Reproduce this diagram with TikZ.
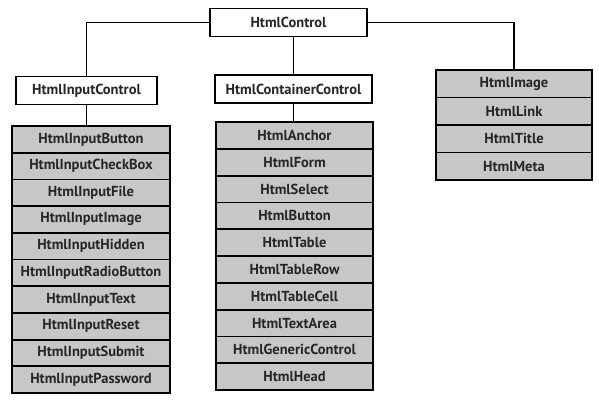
\documentclass[tikz,border=0pt]{standalone}
\usepackage{fontspec}
\setmainfont{PT Sans}
\usepackage{tikz}
\usetikzlibrary{calc}

\begin{document}
\begin{tikzpicture}[inner sep=0pt,outer sep=0pt,scale=1,
    every node/.style={font=\bfseries\fontsize{14.5}{16}\selectfont, text=black!85},
    topbox/.style={draw, line width=1.8pt, fill=white, minimum height=28pt},
    rowbox/.style={draw, line width=1.8pt, fill=black!22, minimum height=#1, anchor=north},
    link/.style={line width=1.8pt}]
    %
    \useasboundingbox (0,0) rectangle (599pt,-404pt);
    % parents
	\node[topbox, minimum width=157pt] (html_control) at (288.5pt, -22.5pt) {HtmlControl};
	\node[topbox, minimum width=141pt] (input_control) at (86.5pt, -90.5pt) {HtmlInputControl};
	\node[topbox, minimum width=157pt] (container_control) at (293.5pt, -89pt) {HtmlContainerControl};
    % left stack
    \foreach \lbl [count=\i from 0] in {InputButton, InputCheckBox, InputFile, InputImage, InputHidden,
        InputRadioButton, InputText, InputReset, InputSubmit, InputPassword}
    \node[rowbox=26.7pt, minimum width=158pt] (input_\i) at (91pt, {-126pt-\i*26.7pt}) {Html\lbl};
    % middle stack
    \foreach \lbl [count=\i from 0] in {Anchor, Form, Select, Button, Table,
        TableRow, TableCell, TextArea, GenericControl, Head}
    \node[rowbox=26.8pt, minimum width=157pt] (cont_\i) at (294.5pt, {-122pt-\i*26.8pt}) {Html\lbl};
    % right stack
    \foreach \lbl [count=\i from 0] in {Image, Link, Title, Meta}
    \node[rowbox=27.5pt, minimum width=156pt] (other_\i) at (514pt, {-70pt-\i*27.5pt}) {Html\lbl};
    % connectors
    \draw[link] (html_control.west) -| (input_control.north);
    \draw[link] (container_control.north |- html_control.south) -- (container_control.north);
    \draw[link] (html_control.east) -| (other_0.north);
    \draw[link] (input_control.south) -- (input_0.north -| input_control.south);
    \draw[link] (container_control.south) -- (cont_0.north -| container_control.south);

\end{tikzpicture}
\end{document}
